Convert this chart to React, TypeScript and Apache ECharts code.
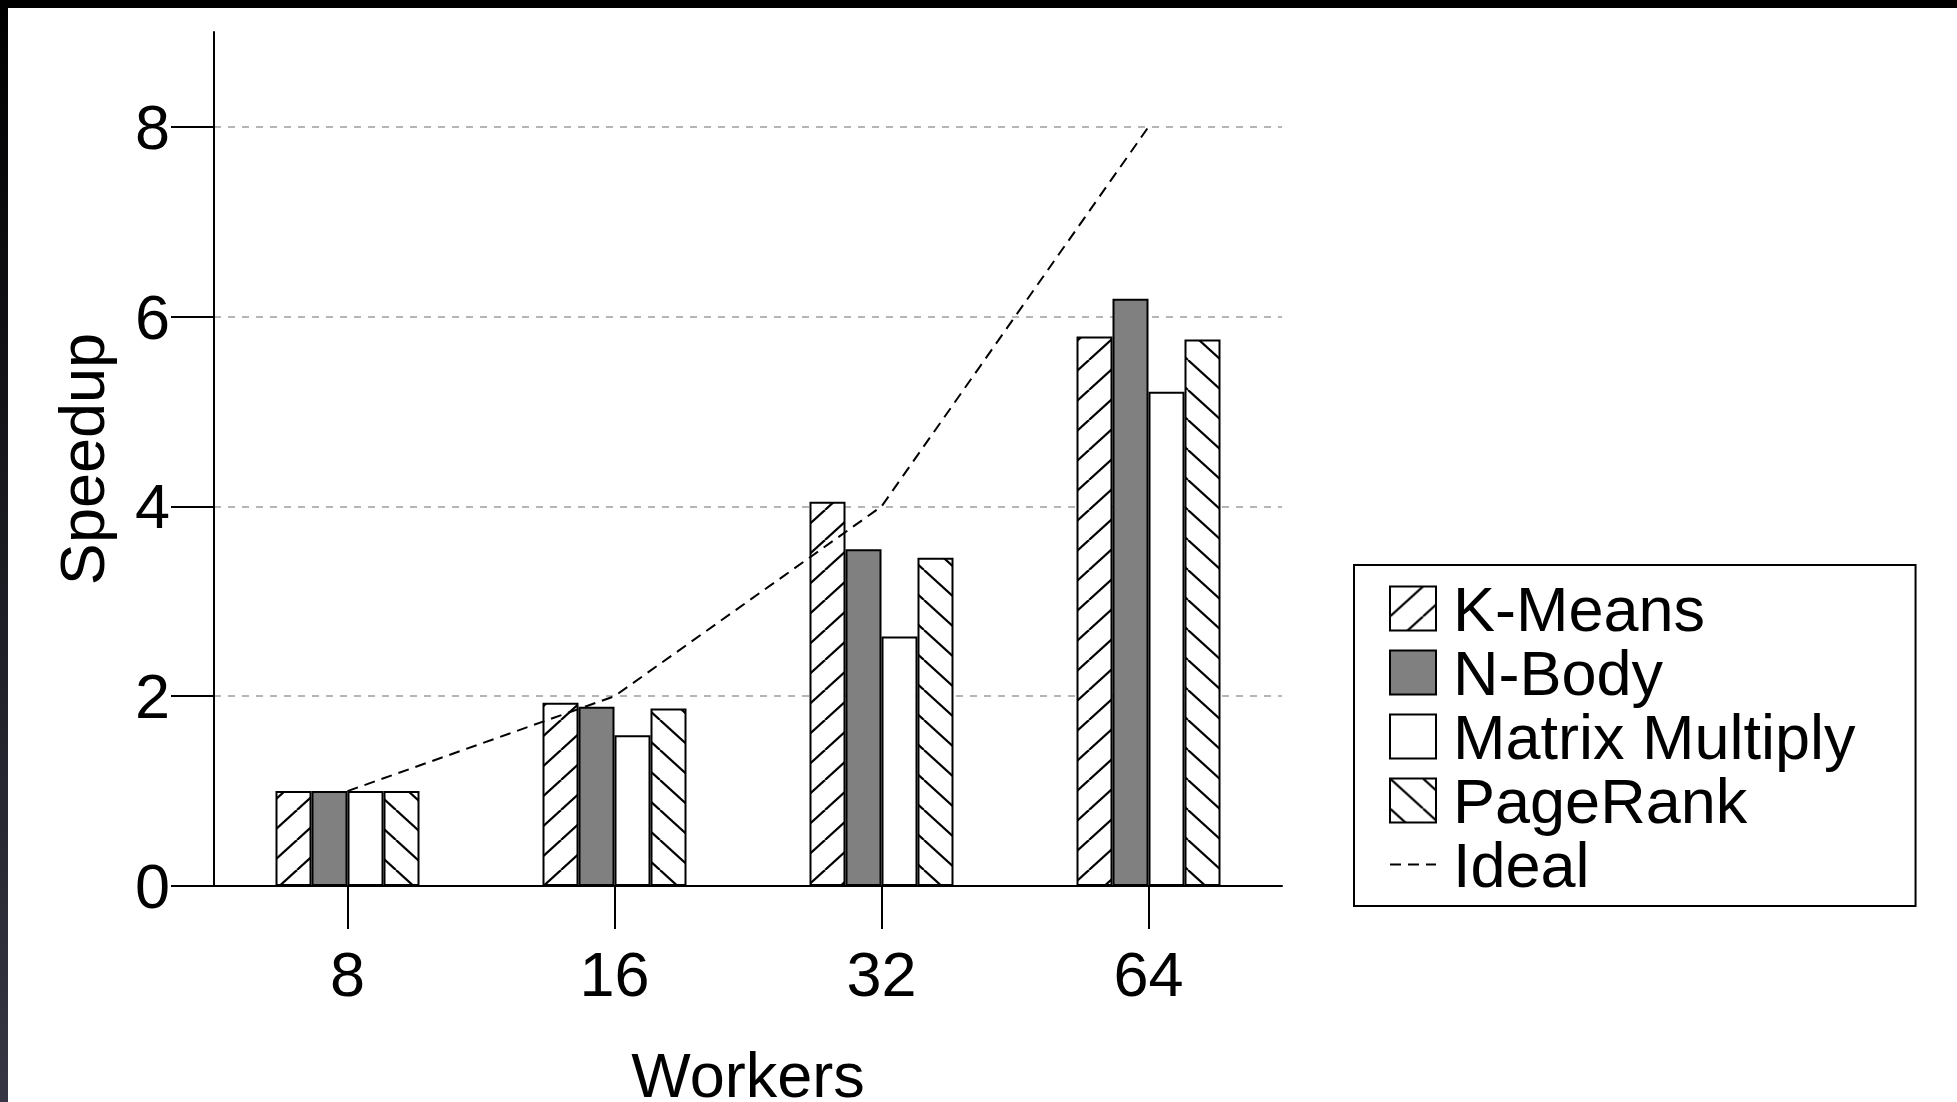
import { useEffect, useRef } from 'react';
import * as echarts from 'echarts';

// Speedup per benchmark for each worker count
const workers = ['8', '16', '32', '64'];
const kMeans = [1.0, 1.93, 4.05, 5.79];
const nBody = [1.0, 1.89, 3.55, 6.19];
const matrixMultiply = [1.0, 1.59, 2.63, 5.21];
const pageRank = [1.0, 1.87, 3.46, 5.76];
const ideal = [1, 2, 4, 8];
const yTicks = [0, 2, 4, 6, 8];

const FONT = 'Liberation Sans, Arial, Helvetica, sans-serif';

// Diagonal hatch tile: 'up' draws "/" strokes, 'down' draws "\" strokes
function hatch(dir: 'up' | 'down') {
  const W = 33;
  const H = 30;
  const c = document.createElement('canvas');
  c.width = W;
  c.height = H;
  const ctx = c.getContext('2d')!;
  ctx.fillStyle = '#fff';
  ctx.fillRect(0, 0, W, H);
  ctx.strokeStyle = '#000';
  ctx.lineWidth = 2.2;
  for (const dx of [-W, 0, W]) {
    ctx.beginPath();
    if (dir === 'up') {
      ctx.moveTo(dx, H);
      ctx.lineTo(dx + W, 0);
    } else {
      ctx.moveTo(dx, 0);
      ctx.lineTo(dx + W, H);
    }
    ctx.stroke();
  }
  return { image: c, repeat: 'repeat', imageWidth: W, imageHeight: H } as any;
}

export default function App() {
  const ref = useRef<HTMLDivElement>(null);

  useEffect(() => {
    const chart = echarts.init(ref.current!, null, { renderer: 'svg' });
    const barBase = {
      type: 'bar' as const,
      barWidth: 36,
      barGap: '0%',
    };
    const border = { borderColor: '#000', borderWidth: 2 };
    chart.setOption({
      animation: false,
      backgroundColor: '#fff',
      textStyle: { fontFamily: FONT },
      grid: {
        left: 214,
        right: 675,
        top: 32,
        bottom: 216,
        containLabel: false,
        outerBoundsMode: 'none',
      },
      legend: {
        orient: 'vertical',
        left: 1354,
        top: 565,
        padding: [12, 60, 10, 35],
        itemWidth: 46,
        itemHeight: 44,
        itemGap: 1,
        borderColor: '#000',
        borderWidth: 2,
        selectedMode: false,
        textStyle: {
          fontSize: 63,
          color: '#000',
          fontFamily: FONT,
          padding: [0, 0, 0, 12],
        },
        data: [
          { name: 'K-Means', icon: 'rect' },
          { name: 'N-Body', icon: 'rect' },
          { name: 'Matrix Multiply', icon: 'rect' },
          { name: 'PageRank', icon: 'rect' },
          // dashed line only, no marker
          { name: 'Ideal', itemStyle: { opacity: 0 } },
        ],
      },
      xAxis: {
        type: 'category',
        data: workers,
        name: 'Workers',
        nameLocation: 'middle',
        nameGap: 164,
        nameMoveOverlap: false,
        nameTextStyle: { fontSize: 63, color: '#000', fontFamily: FONT, lineHeight: 50 },
        axisLine: { show: true, lineStyle: { color: '#000', width: 2 } },
        axisTick: {
          show: true,
          alignWithLabel: true,
          length: 43,
          lineStyle: { color: '#000', width: 2 },
        },
        axisLabel: { fontSize: 63, color: '#000', margin: 56, fontFamily: FONT },
        splitLine: { show: false },
      },
      yAxis: {
        type: 'value',
        min: 0,
        max: 9,
        name: 'Speedup',
        nameLocation: 'middle',
        nameGap: 101,
        nameMoveOverlap: false,
        nameTextStyle: { fontSize: 63, color: '#000', fontFamily: FONT },
        axisLine: { show: true, lineStyle: { color: '#000', width: 2 } },
        axisTick: {
          show: true,
          length: 43,
          customValues: yTicks,
          lineStyle: { color: '#000', width: 2 },
        },
        axisLabel: {
          customValues: yTicks,
          fontSize: 63,
          color: '#000',
          margin: 44,
          padding: [20, 0, 0, 0],
          fontFamily: FONT,
        },
        splitLine: {
          show: true,
          lineStyle: { color: '#b5b5b5', width: 2, type: [7, 7] },
        },
      },
      series: [
        { ...barBase, name: 'K-Means', data: kMeans, itemStyle: { color: hatch('up'), ...border } },
        { ...barBase, name: 'N-Body', data: nBody, itemStyle: { color: '#808080', ...border } },
        { ...barBase, name: 'Matrix Multiply', data: matrixMultiply, itemStyle: { color: '#fff', ...border } },
        { ...barBase, name: 'PageRank', data: pageRank, itemStyle: { color: hatch('down'), ...border } },
        {
          name: 'Ideal',
          type: 'line',
          data: ideal,
          symbol: 'none',
          z: 5,
          lineStyle: { color: '#000', width: 2, type: [11, 7] },
          itemStyle: { color: '#000' },
        },
      ],
    });
    return () => chart.dispose();
  }, []);

  return (
    <div
      style={{
        position: 'fixed',
        left: 0,
        top: 0,
        width: 1957,
        height: 1102,
        background: '#fff',
        overflow: 'hidden',
      }}
    >
      <div ref={ref} style={{ position: 'absolute', left: 0, top: 0, width: 1957, height: 1102 }} />
      <div style={{ position: 'absolute', left: 0, top: 0, width: 1957, height: 8, background: '#000' }} />
      <div
        style={{
          position: 'absolute',
          left: 0,
          top: 0,
          width: 8,
          height: 1102,
          background: 'linear-gradient(#000, #363644)',
        }}
      />
    </div>
  );
}
